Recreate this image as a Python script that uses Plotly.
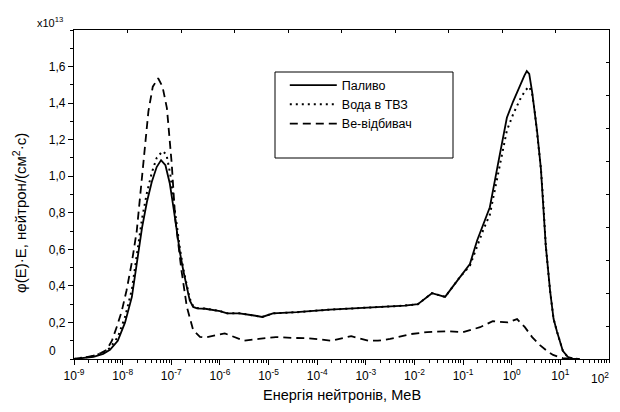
import plotly.graph_objects as go

# ---- data (energy as log10(E/MeV), flux*E in units of 1e13) ----
fuel_logE = [-9.0, -8.9, -8.6, -8.4, -8.26, -8.1, -7.95, -7.81, -7.68, -7.6, -7.5, -7.4, -7.3, -7.21,
             -7.12, -7.03, -6.95, -6.89, -6.82, -6.75, -6.68, -6.62, -6.55, -6.47, -6.3, -6.2, -6.0,
             -5.85, -5.6, -5.3, -5.13, -4.91, -4.42, -3.74, -3.12, -2.71, -2.2, -1.93, -1.78, -1.64,
             -1.5, -1.37, -1.2, -1.06, -0.86, -0.71, -0.58, -0.45, -0.28, -0.10, 0.03, 0.17, 0.26,
             0.31, 0.36, 0.42, 0.52, 0.60, 0.65, 0.70, 0.79, 0.86, 0.93, 1.0, 1.05, 1.15, 1.25, 1.4]
fuel_val = [0.0, 0.003, 0.012, 0.028, 0.05, 0.10, 0.20, 0.34, 0.58, 0.72, 0.86, 0.97, 1.05, 1.088,
            1.06, 0.96, 0.82, 0.70, 0.58, 0.48, 0.39, 0.32, 0.285, 0.277, 0.275, 0.272, 0.262,
            0.25, 0.25, 0.238, 0.23, 0.25, 0.256, 0.27, 0.278, 0.283, 0.292, 0.30, 0.33, 0.36,
            0.35, 0.34, 0.40, 0.45, 0.52, 0.65, 0.74, 0.83, 1.07, 1.32, 1.41, 1.50, 1.55,
            1.575, 1.56, 1.46, 1.25, 1.04, 0.85, 0.62, 0.37, 0.22, 0.15, 0.08, 0.045, 0.012, 0.002, 0.0]

water_logE = [-9.0, -8.9, -8.6, -8.4, -8.26, -8.1, -7.95, -7.81, -7.68, -7.6, -7.5, -7.4, -7.3, -7.18,
              -7.1, -7.02, -6.95, -6.89, -6.82, -6.75, -6.68, -6.62, -6.55, -6.47, -6.3, -6.2, -6.0,
              -5.85, -5.6, -5.3, -5.13, -4.91, -4.42, -3.74, -3.12, -2.71, -2.2, -1.93, -1.78, -1.64,
              -1.5, -1.37, -1.2, -1.06, -0.86, -0.71, -0.58, -0.45, -0.28, -0.10, 0.03, 0.17, 0.28,
              0.36, 0.42, 0.47, 0.52, 0.60, 0.65, 0.70, 0.79, 0.86, 0.93, 1.0, 1.05, 1.15, 1.25, 1.4]
water_val = [0.0, 0.004, 0.016, 0.035, 0.06, 0.12, 0.23, 0.38, 0.62, 0.77, 0.91, 1.02, 1.10, 1.137,
             1.12, 1.01, 0.86, 0.73, 0.60, 0.49, 0.40, 0.33, 0.29, 0.279, 0.276, 0.272, 0.262,
             0.25, 0.25, 0.238, 0.23, 0.25, 0.256, 0.27, 0.278, 0.283, 0.292, 0.30, 0.33, 0.36,
             0.35, 0.34, 0.40, 0.45, 0.51, 0.62, 0.71, 0.79, 1.02, 1.25, 1.34, 1.42, 1.47,
             1.49, 1.45, 1.36, 1.24, 1.04, 0.85, 0.62, 0.37, 0.22, 0.15, 0.08, 0.045, 0.012, 0.002, 0.0]

be_logE = [-9.0, -8.8, -8.6, -8.45, -8.33, -8.22, -8.12, -8.02, -7.92, -7.81, -7.71, -7.64, -7.575,
           -7.52, -7.47, -7.38, -7.27, -7.18, -7.09, -7.04, -6.99, -6.92, -6.85, -6.79, -6.68, -6.55,
           -6.41, -6.3, -5.9, -5.7, -5.5, -5.2, -4.85, -4.5, -4.2, -3.7, -3.3, -2.95, -2.75, -2.5,
           -2.09, -1.74, -1.33, -1.0, -0.65, -0.39, -0.08, 0.11, 0.27, 0.42, 0.58, 0.72, 0.85, 1.05, 1.3]
be_val = [0.0, 0.006, 0.018, 0.032, 0.05, 0.10, 0.176, 0.26, 0.375, 0.53, 0.70, 0.88, 1.066,
          1.22, 1.355, 1.49, 1.536, 1.49, 1.373, 1.22, 1.066, 0.774, 0.62, 0.484, 0.285, 0.158,
          0.121, 0.118, 0.14, 0.12, 0.10, 0.11, 0.12, 0.115, 0.114, 0.10, 0.125, 0.10, 0.10, 0.11,
          0.136, 0.147, 0.152, 0.147, 0.174, 0.207, 0.20, 0.218, 0.174, 0.12, 0.076, 0.045, 0.022, 0.005, 0.0]

series_names = ["Паливо", "Вода в ТВЗ", "Ве-відбивач"]
x_tick_vals = [1e-9, 1e-8, 1e-7, 1e-6, 1e-5, 1e-4, 1e-3, 1e-2, 1e-1, 1e0, 1e1, 1e2]
x_tick_text = ["10<sup>-9</sup>", "10<sup>-8</sup>", "10<sup>-7</sup>", "10<sup>-6</sup>",
               "10<sup>-5</sup>", "10<sup>-4</sup>", "10<sup>-3</sup>", "10<sup>-2</sup>",
               "10<sup>-1</sup>", "10<sup>0</sup>", "10<sup>1</sup>", "10<sup>2</sup>"]
y_tick_vals = [0.2, 0.4, 0.6, 0.8, 1.0, 1.2, 1.4, 1.6]
y_tick_text = ["0,2", "0,4", "0,6", "0,8", "1,0", "1,2", "1,4", "1,6"]

FONT = "Liberation Sans, Arial, sans-serif"


def energies(logs):
    return [10 ** v for v in logs]


fig = go.Figure()
fig.add_trace(go.Scatter(x=energies(fuel_logE), y=fuel_val, mode="lines", name=series_names[0],
                         line=dict(color="black", width=1.8)))
fig.add_trace(go.Scatter(x=energies(water_logE), y=water_val, mode="lines", name=series_names[1],
                         line=dict(color="black", width=2, dash="2px,4px")))
fig.add_trace(go.Scatter(x=energies(be_logE), y=be_val, mode="lines", name=series_names[2],
                         line=dict(color="black", width=1.8, dash="8px,5px")))
# empty trace so that the linked top / right frame axes are drawn
fig.add_trace(go.Scatter(x=[], y=[], xaxis="x2", yaxis="y2", showlegend=False, hoverinfo="skip"))

fig.update_layout(
    width=604, height=396,
    margin=dict(l=66, r=3, t=22, b=45),
    paper_bgcolor="white", plot_bgcolor="white",
    font=dict(family=FONT, size=12, color="black"),
    showlegend=True,
    legend=dict(x=0.394, y=0.877, xanchor="left", yanchor="top",
                bgcolor="rgba(0,0,0,0)", borderwidth=0,
                font=dict(family=FONT, size=12.5, color="black"),
                itemwidth=47, tracegroupgap=0),
    xaxis=dict(type="log", range=[-9, 2], tickvals=x_tick_vals[:-1], ticktext=x_tick_text[:-1],
               showgrid=False, zeroline=False,
               showline=True, linecolor="black", linewidth=1.3, mirror=False,
               ticks="outside", ticklen=5, tickwidth=1, tickcolor="black",
               tickfont=dict(family=FONT, size=12),
               minor=dict(ticks="outside", ticklen=3, tickwidth=1, tickcolor="black", dtick="D1",
                          showgrid=False)),
    yaxis=dict(range=[0, 1.8], tickvals=y_tick_vals, ticktext=y_tick_text,
               showgrid=False, zeroline=False,
               showline=True, linecolor="black", linewidth=1.3, mirror=False,
               ticks="outside", ticklen=5, tickwidth=1, tickcolor="black",
               tickfont=dict(family=FONT, size=12),
               minor=dict(ticks="outside", ticklen=3, tickwidth=1, tickcolor="black", dtick=0.1,
                          showgrid=False)),
    xaxis2=dict(overlaying="x", side="top", anchor="y", range=[0, 10], dtick=1,
                showgrid=False, zeroline=False, showticklabels=False,
                showline=True, linecolor="black", linewidth=1.3,
                ticks="inside", ticklen=3, tickwidth=1, tickcolor="black"),
    yaxis2=dict(overlaying="y", side="right", anchor="x", range=[0, 10], dtick=1,
                showgrid=False, zeroline=False, showticklabels=False,
                showline=True, linecolor="black", linewidth=1.3,
                ticks="inside", ticklen=3, tickwidth=1, tickcolor="black"),
)

# last decade label kept inside the page edge
fig.add_annotation(text=x_tick_text[-1], xref="paper", yref="paper", x=1, y=0,
                   xanchor="right", yanchor="middle", xshift=2, yshift=-19,
                   showarrow=False, font=dict(family=FONT, size=12))

# legend frame
fig.add_shape(type="rect", xref="paper", yref="paper",
              x0=(275 - 74) / 535, x1=(453 - 74) / 535,
              y0=(359 - 158) / 329, y1=(359 - 72) / 329,
              line=dict(color="black", width=1), fillcolor="rgba(0,0,0,0)")

fig.add_annotation(text="0", xref="paper", yref="y", x=0, y=0, xanchor="right", yanchor="middle",
                   xshift=-16, yshift=8, showarrow=False, font=dict(family=FONT, size=12))
fig.add_annotation(text="x10<sup>13</sup>", xref="paper", yref="paper",
                   x=(35 - 74) / 535, y=(359 - 22) / 329, xanchor="left", yanchor="middle",
                   showarrow=False, font=dict(family=FONT, size=11))
fig.add_annotation(text="φ(E)·E, нейтрон/(см<sup>2</sup>·с)", xref="paper", yref="paper",
                   x=(19 - 74) / 535, y=(359 - 213) / 329, textangle=-90,
                   xanchor="center", yanchor="middle", showarrow=False,
                   font=dict(family=FONT, size=15))
fig.add_annotation(text="Енергія нейтронів, МеВ", xref="paper", yref="paper",
                   x=0.5, y=(359 - 395) / 329, xanchor="center", yanchor="middle",
                   showarrow=False, font=dict(family=FONT, size=14.5))

fig.write_html("out.html")
